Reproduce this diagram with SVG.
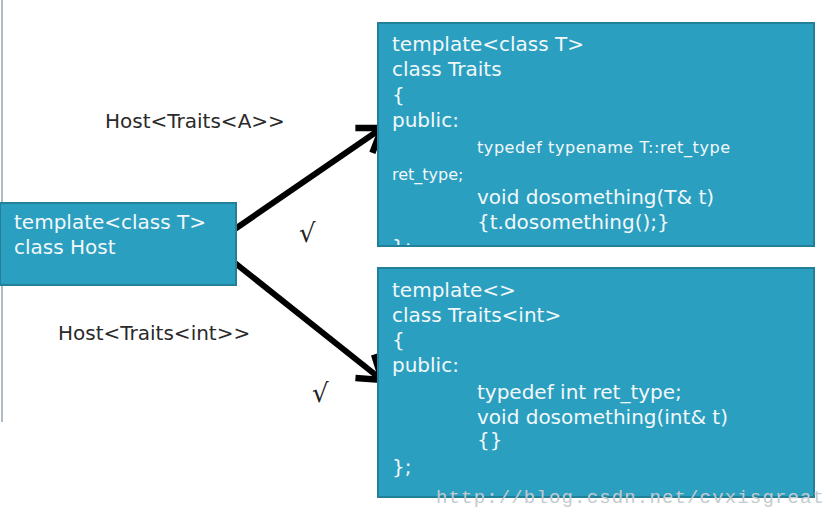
<svg xmlns="http://www.w3.org/2000/svg" width="837" height="508" viewBox="0 0 837 508">
<style>
.box{fill:#2b9fc0;stroke:#22809a;stroke-width:2}
.code{font-family:"DejaVu Sans",sans-serif;font-size:20px;fill:#f2f8fa}
.small{font-size:16px}
.lbl{font-family:"DejaVu Sans",sans-serif;font-size:20px;fill:#2a2a2a}
.chk{font-family:"DejaVu Serif","Liberation Serif",serif;font-size:26px;fill:#222}
.conn{stroke:#000;stroke-width:6;fill:none}
.wm{font-family:"Liberation Mono",monospace;font-size:19px;fill:#c6cacd}
</style>
<defs>
<marker id="ah" markerUnits="userSpaceOnUse" markerWidth="60" markerHeight="60" viewBox="-35 -30 60 60" refX="0" refY="0" orient="auto">
<path d="M-22,-15 L0,0 L-22,15" fill="none" stroke="#000" stroke-width="6.5"/>
</marker>
<clipPath id="c1"><rect x="379" y="24" width="434" height="221"/></clipPath>
</defs>
<rect width="837" height="508" fill="#ffffff"/>
<line x1="2" y1="0" x2="2" y2="422" stroke="#b3bbc2" stroke-width="2"/>
<g id="connectors">
<path class="conn" d="M235,229 L382,128" marker-end="url(#ah)"/>
<path class="conn" d="M235,263 L382,380" marker-end="url(#ah)"/>
</g>
<g id="host">
<rect class="box" x="0" y="203" width="236" height="82"/>
<text class="code" x="14" y="229">template&lt;class T&gt;</text>
<text class="code" x="14" y="254">class Host</text>
</g>
<g id="traits">
<rect class="box" x="378" y="23" width="436" height="223"/>
<g clip-path="url(#c1)">
<text class="code" x="392" y="51">template&lt;class T&gt;</text>
<text class="code" x="392" y="76">class Traits</text>
<text class="code" x="392" y="102">{</text>
<text class="code" x="392" y="127">public:</text>
<text class="code small" x="477" y="153" textLength="253" lengthAdjust="spacing">typedef typename T::ret_type</text>
<text class="code small" x="392" y="180">ret_type;</text>
<text class="code" x="477" y="204">void dosomething(T&amp; t)</text>
<text class="code" x="477" y="229">{t.dosomething();}</text>
<text class="code" x="392" y="254">};</text>
</g>
</g>
<g id="traits-int">
<rect class="box" x="378" y="268" width="436" height="229"/>
<text class="code" x="392" y="297">template&lt;&gt;</text>
<text class="code" x="392" y="322">class Traits&lt;int&gt;</text>
<text class="code" x="392" y="347">{</text>
<text class="code" x="392" y="372">public:</text>
<text class="code" x="477" y="399">typedef int ret_type;</text>
<text class="code" x="477" y="424">void dosomething(int&amp; t)</text>
<text class="code" x="477" y="447">{}</text>
<text class="code" x="392" y="474">};</text>
</g>
<g id="labels">
<text class="lbl" x="105" y="128">Host&lt;Traits&lt;A&gt;&gt;</text>
<text class="lbl" x="58" y="340">Host&lt;Traits&lt;int&gt;&gt;</text>
<text class="chk" x="299" y="242">√</text>
<text class="chk" x="312" y="402">√</text>
</g>
<text class="wm" x="436" y="503" textLength="388" lengthAdjust="spacing">http://blog.csdn.net/cvxisgreat</text>
</svg>
